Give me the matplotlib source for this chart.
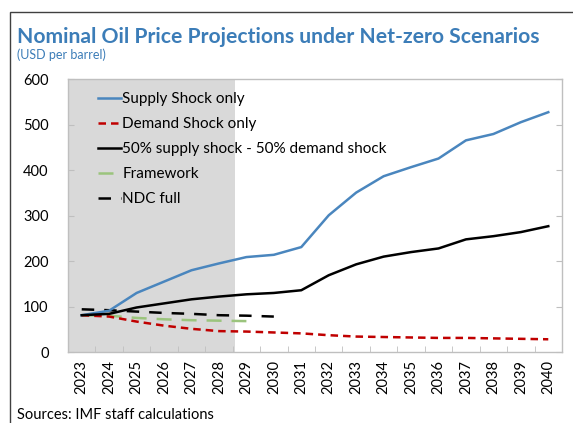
import numpy as np
import matplotlib
matplotlib.use("Agg")
import matplotlib.pyplot as plt
from matplotlib.patches import Rectangle

plt.rcParams['font.family'] = ['Lato', 'DejaVu Sans']

# Data
years = [str(y) for y in range(2023, 2041)]
supply_shock = [81, 91, 130, 155, 180, 195, 209, 214, 231, 301, 351, 387, 407, 426, 466, 480, 506, 528]
demand_shock = [81, 78, 67, 58, 51, 46, 45, 43, 41, 37, 34, 33, 32, 31, 31, 30, 29, 28]
mixed_shock = [81, 84, 98, 107, 116, 122, 127, 130, 136, 169, 193, 210, 220, 228, 248, 255, 264, 277]
framework = [81, 80, 75, 72, 70, 69, 68]
ndc_full = [94, 92, 89, 86, 84, 81, 80, 78]

title_blue = '#3C7DB8'
gray = '#BFBFBF'

fig = plt.figure(figsize=(5.73, 4.23), dpi=100)
W, H = 573, 423
ax = fig.add_axes([68 / W, 1 - 352 / H, (562 - 68) / W, (352 - 79.5) / H])

x = np.arange(len(years))

# projection-period shading
ax.axvspan(-0.5, 5.6, color='#D9D9D9', lw=0, zorder=0)

ax.plot(x, supply_shock, color='#4A86BE', lw=1.8, label='Supply Shock only', zorder=3)
ax.plot(x, demand_shock, color='#C00000', lw=1.8, ls=(0, (3, 2)), label='Demand Shock only', zorder=3)
ax.plot(x, mixed_shock, color='black', lw=1.8, label='50% supply shock - 50% demand shock', zorder=3)
ax.plot(x[:len(framework)], framework, color='#9BC47D', lw=1.8, ls=(0, (6, 4)), label='Framework', zorder=2)
ax.plot(x[:len(ndc_full)], ndc_full, color='black', lw=1.8, ls=(0, (5, 4)), label='NDC full', zorder=2)

ax.set_xlim(-0.5, len(years) - 0.5)
ax.set_ylim(0, 600)
ax.set_yticks(range(0, 601, 100))
ax.set_xticks(x)
ax.set_xticklabels(years, rotation=90, fontsize=10.5)
ax.set_xticks(np.arange(-0.5, len(years)), minor=True)
ax.tick_params(axis='x', which='major', length=0, pad=6)
ax.tick_params(axis='x', which='minor', direction='in', length=4, color=gray)
ax.tick_params(axis='y', direction='in', length=4, color=gray, labelsize=10.5, pad=14,
               right=True)

for s in ax.spines.values():
    s.set_color(gray)
    s.set_linewidth(1)

leg = ax.legend(loc='upper left', bbox_to_anchor=(0.048, 0.975), frameon=False,
                fontsize=11, handlelength=1.5, handletextpad=0.1, labelspacing=0.72,
                borderaxespad=0)

# titles and source
fig.text(17 / W, 1 - 43 / H, 'Nominal Oil Price Projections under Net-zero Scenarios',
         color=title_blue, fontsize=15.2, fontweight='bold', va='baseline')
fig.text(17 / W, 1 - 59 / H, '(USD per barrel)', color=title_blue, fontsize=9, va='baseline')
fig.text(17 / W, 1 / H, 'Sources: IMF staff calculations', color='black', fontsize=10.5,
         va='bottom')

# outer frame
fig.patches.append(Rectangle((10 / W, -0.1), 1.2, 1 - 12 / H + 0.1, transform=fig.transFigure,
                             fill=False, edgecolor='#404040', lw=1))

fig.savefig('out.png', dpi=100)
